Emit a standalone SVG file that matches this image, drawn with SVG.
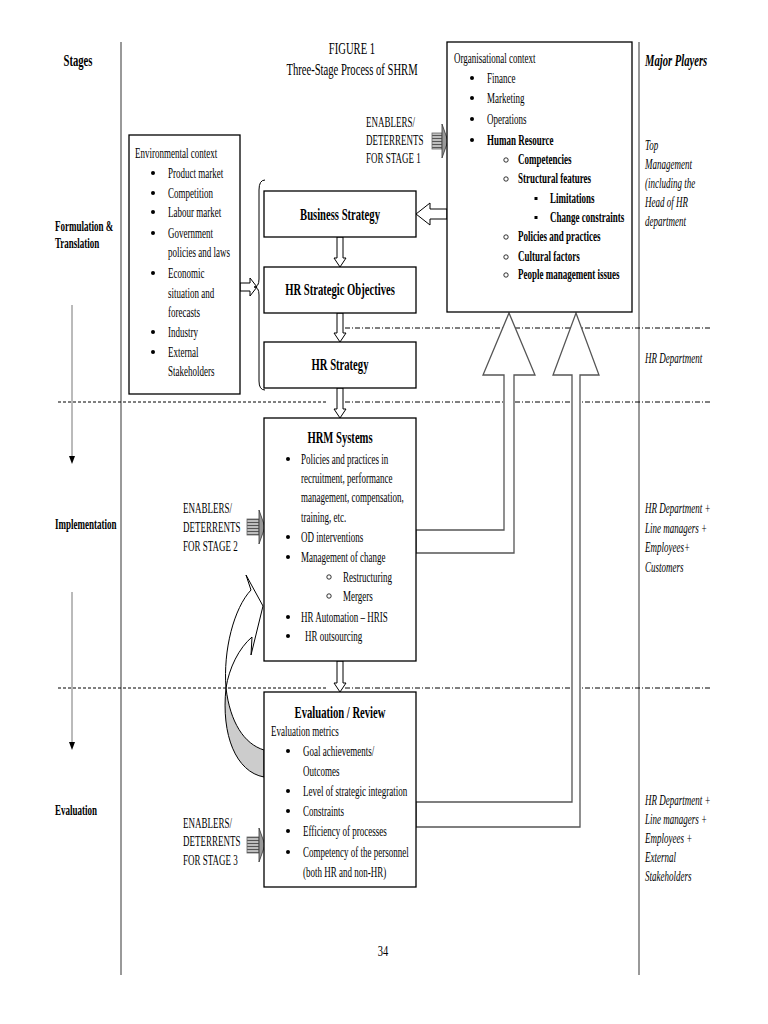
<svg xmlns="http://www.w3.org/2000/svg" width="768" height="1024" viewBox="0 0 768 1024">
<style>
.t{font-family:"Liberation Serif","Times New Roman",serif;font-size:15px;fill:#000}
.b{font-weight:bold}
.i{font-style:italic}
.h{font-size:17px}
.s{font-size:14px}
.box{fill:#fff;stroke:#000;stroke-width:1.3}
.col{stroke:#777;stroke-width:1.5;fill:none}
.dot{stroke:#000;stroke-width:1;stroke-dasharray:3 2;fill:none}
.dd{stroke:#000;stroke-width:1;stroke-dasharray:5 2 1 2;fill:none}
.open{fill:#fff;stroke:#000;stroke-width:1}
.big{fill:#fff;stroke:#555;stroke-width:1.3}
.sh{fill:url(#stripe);stroke:#666;stroke-width:0.8}
.hd{fill:#999;stroke:#333;stroke-width:0.8}
.bul{fill:#000}
.cir{fill:none;stroke:#000;stroke-width:0.8}
</style>
<defs>
<pattern id="stripe" width="4" height="3" patternUnits="userSpaceOnUse">
<rect width="4" height="3" fill="#bdbdbd"/>
<line x1="0" y1="0.5" x2="4" y2="0.5" stroke="#555" stroke-width="1"/>
</pattern>
</defs>
<rect width="768" height="1024" fill="#fff"/>

<g id="frame">
<line class="col" x1="121" y1="42" x2="121" y2="975"/>
<line class="col" x1="639" y1="42" x2="639" y2="975"/>
<line class="dot" x1="58" y1="402" x2="328" y2="402"/>
<line class="dot" x1="58" y1="688" x2="328" y2="688"/>
<line class="dd" x1="345" y1="328" x2="712" y2="328"/>
<line class="dd" x1="345" y1="402" x2="712" y2="402"/>
<line class="dd" x1="345" y1="688" x2="712" y2="688"/>
</g>

<g id="stages">
<text class="t b h" text-anchor="middle" transform="translate(78,66) scale(0.625,1)">Stages</text>
<text class="t b s" transform="translate(55,231) scale(0.643,1)">Formulation &amp;</text>
<text class="t b s" transform="translate(55,248) scale(0.643,1)">Translation</text>
<text class="t b s" transform="translate(55,529) scale(0.643,1)">Implementation</text>
<text class="t b s" transform="translate(55,815) scale(0.643,1)">Evaluation</text>
<line x1="72" y1="305" x2="72" y2="456" stroke="#777" stroke-width="1"/>
<polygon points="69,456 75,456 72,464" fill="#000"/>
<line x1="72" y1="592" x2="72" y2="742" stroke="#777" stroke-width="1"/>
<polygon points="69,742 75,742 72,750" fill="#000"/>
</g>

<g id="title">
<text class="t h" text-anchor="middle" transform="translate(352,54) scale(0.625,1)">FIGURE 1</text>
<text class="t h" text-anchor="middle" transform="translate(352,75) scale(0.625,1)">Three-Stage Process of SHRM</text>
</g>

<g id="players">
<text class="t b i h" transform="translate(645,66) scale(0.625,1)">Major Players</text>
<text class="t i" transform="translate(645,150) scale(0.6,1)">Top</text>
<text class="t i" transform="translate(645,169) scale(0.6,1)">Management</text>
<text class="t i" transform="translate(645,188) scale(0.6,1)">(including the</text>
<text class="t i" transform="translate(645,207) scale(0.6,1)">Head of HR</text>
<text class="t i" transform="translate(645,226) scale(0.6,1)">department</text>
<text class="t i" transform="translate(645,363) scale(0.6,1)">HR Department</text>
<text class="t i" transform="translate(645,513) scale(0.6,1)">HR Department +</text>
<text class="t i" transform="translate(645,533) scale(0.6,1)">Line managers +</text>
<text class="t i" transform="translate(645,552) scale(0.6,1)">Employees+</text>
<text class="t i" transform="translate(645,572) scale(0.6,1)">Customers</text>
<text class="t i" transform="translate(645,805) scale(0.6,1)">HR Department +</text>
<text class="t i" transform="translate(645,824) scale(0.6,1)">Line managers +</text>
<text class="t i" transform="translate(645,843) scale(0.6,1)">Employees +</text>
<text class="t i" transform="translate(645,862) scale(0.6,1)">External</text>
<text class="t i" transform="translate(645,881) scale(0.6,1)">Stakeholders</text>
</g>

<g id="connectors">
<polygon class="big" points="416,530 504,530 504,375 483,375 509,313 535,375 514,375 514,553 416,553"/>
<polygon class="big" points="416,802 572,802 572,375 553,375 576,313 599,375 580,375 580,827 416,827"/>
<polygon class="open" points="337,237 337,258 334,258 340,267 346,258 343,258 343,237"/>
<polygon class="open" points="337,313 337,333 334,333 340,342 346,333 343,333 343,313"/>
<polygon class="open" points="337,388 337,409 334,409 340,418 346,409 343,409 343,388"/>
<polygon class="open" points="337,661 337,683 334,683 340,692 346,683 343,683 343,661"/>
<polygon class="open" points="447,209 430,209 430,203 416,214 430,225 430,219 447,219"/>
<polygon class="open" points="240,283 250,283 250,278 257,287 250,296 250,291 240,291"/>
<path d="M265,180 Q259,180 259,190 L259,279 Q259,287 254,287 Q259,287 259,295 L259,381 Q259,390 265,390" fill="none" stroke="#000" stroke-width="1"/>
<rect class="sh" x="432" y="133" width="10" height="16"/>
<polygon class="hd" points="442,124 448,141 442,158"/>
<rect class="sh" x="247" y="519" width="12" height="16"/>
<polygon class="hd" points="259,510 265,527 259,544"/>
<rect class="sh" x="247" y="837" width="12" height="16"/>
<polygon class="hd" points="259,828 265,845 259,862"/>
<path d="M251,590 L246,575 L263,606 L251,655 L252,637 C239,648 229,668 226,688 C223,650 234,608 251,590 Z" fill="#fff" stroke="#000" stroke-width="1"/>
<path d="M226,688 C230,722 244,744 264,750 L264,777 C236,772 221,735 226,688 Z" fill="#cccccc" stroke="#000" stroke-width="1"/>
</g>

<g id="enablers">
<text class="t" transform="translate(366,127) scale(0.6,1)">ENABLERS/</text>
<text class="t" transform="translate(366,145) scale(0.6,1)">DETERRENTS</text>
<text class="t" transform="translate(366,163) scale(0.6,1)">FOR STAGE 1</text>
<text class="t" transform="translate(183,513) scale(0.6,1)">ENABLERS/</text>
<text class="t" transform="translate(183,532) scale(0.6,1)">DETERRENTS</text>
<text class="t" transform="translate(183,551) scale(0.6,1)">FOR STAGE 2</text>
<text class="t" transform="translate(183,828) scale(0.6,1)">ENABLERS/</text>
<text class="t" transform="translate(183,846) scale(0.6,1)">DETERRENTS</text>
<text class="t" transform="translate(183,865) scale(0.6,1)">FOR STAGE 3</text>
</g>

<g id="org-context">
<rect class="box" x="447" y="42" width="185" height="270"/>
<text class="t" transform="translate(454,63) scale(0.6,1)">Organisational context</text>
<circle class="bul" cx="472" cy="78" r="2"/>
<text class="t" transform="translate(487,83) scale(0.6,1)">Finance</text>
<circle class="bul" cx="472" cy="98" r="2"/>
<text class="t" transform="translate(487,103) scale(0.6,1)">Marketing</text>
<circle class="bul" cx="472" cy="119" r="2"/>
<text class="t" transform="translate(487,124) scale(0.6,1)">Operations</text>
<circle class="bul" cx="472" cy="140" r="2"/>
<text class="t b" transform="translate(487,145) scale(0.6,1)">Human Resource</text>
<circle class="cir" cx="506" cy="160" r="2.2"/>
<text class="t b" transform="translate(518,164) scale(0.6,1)">Competencies</text>
<circle class="cir" cx="506" cy="179" r="2.2"/>
<text class="t b" transform="translate(518,183) scale(0.6,1)">Structural features</text>
<rect class="bul" x="534.5" y="197" width="3" height="3"/>
<text class="t b" transform="translate(550,203) scale(0.6,1)">Limitations</text>
<rect class="bul" x="534.5" y="216" width="3" height="3"/>
<text class="t b" transform="translate(550,222) scale(0.6,1)">Change constraints</text>
<circle class="cir" cx="506" cy="237" r="2.2"/>
<text class="t b" transform="translate(518,241) scale(0.6,1)">Policies and practices</text>
<circle class="cir" cx="506" cy="257" r="2.2"/>
<text class="t b" transform="translate(518,261) scale(0.6,1)">Cultural factors</text>
<circle class="cir" cx="506" cy="275" r="2.2"/>
<text class="t b" transform="translate(518,279) scale(0.6,1)">People management issues</text>
</g>

<g id="env-context">
<rect class="box" x="129" y="135" width="111" height="259"/>
<text class="t" transform="translate(135,158) scale(0.6,1)">Environmental context</text>
<circle class="bul" cx="153" cy="173" r="2"/>
<text class="t" transform="translate(168,178) scale(0.6,1)">Product market</text>
<circle class="bul" cx="153" cy="193" r="2"/>
<text class="t" transform="translate(168,198) scale(0.6,1)">Competition</text>
<circle class="bul" cx="153" cy="212" r="2"/>
<text class="t" transform="translate(168,217) scale(0.6,1)">Labour market</text>
<circle class="bul" cx="153" cy="233" r="2"/>
<text class="t" transform="translate(168,238) scale(0.6,1)">Government</text>
<text class="t" transform="translate(168,257) scale(0.6,1)">policies and laws</text>
<circle class="bul" cx="153" cy="273" r="2"/>
<text class="t" transform="translate(168,278) scale(0.6,1)">Economic</text>
<text class="t" transform="translate(168,298) scale(0.6,1)">situation and</text>
<text class="t" transform="translate(168,317) scale(0.6,1)">forecasts</text>
<circle class="bul" cx="153" cy="332" r="2"/>
<text class="t" transform="translate(168,337) scale(0.6,1)">Industry</text>
<circle class="bul" cx="153" cy="352" r="2"/>
<text class="t" transform="translate(168,357) scale(0.6,1)">External</text>
<text class="t" transform="translate(168,376) scale(0.6,1)">Stakeholders</text>
</g>

<g id="business-strategy">
<rect class="box" x="264" y="191" width="152" height="46"/>
<text class="t b h" text-anchor="middle" transform="translate(340,220) scale(0.625,1)">Business Strategy</text>
</g>
<g id="hr-objectives">
<rect class="box" x="264" y="267" width="152" height="46"/>
<text class="t b h" text-anchor="middle" transform="translate(340,295) scale(0.625,1)">HR Strategic Objectives</text>
</g>
<g id="hr-strategy">
<rect class="box" x="264" y="342" width="152" height="46"/>
<text class="t b h" text-anchor="middle" transform="translate(340,370) scale(0.625,1)">HR Strategy</text>
</g>

<g id="hrm-systems">
<rect class="box" x="264" y="418" width="152" height="243"/>
<text class="t b h" text-anchor="middle" transform="translate(340,443) scale(0.625,1)">HRM Systems</text>
<circle class="bul" cx="288" cy="459" r="2"/>
<text class="t" transform="translate(301,464) scale(0.6,1)">Policies and practices in</text>
<text class="t" transform="translate(301,483) scale(0.6,1)">recruitment, performance</text>
<text class="t" transform="translate(301,502) scale(0.6,1)">management, compensation,</text>
<text class="t" transform="translate(301,522) scale(0.6,1)">training, etc.</text>
<circle class="bul" cx="288" cy="537" r="2"/>
<text class="t" transform="translate(301,542) scale(0.6,1)">OD interventions</text>
<circle class="bul" cx="288" cy="557" r="2"/>
<text class="t" transform="translate(301,562) scale(0.6,1)">Management of change</text>
<circle class="cir" cx="329" cy="577" r="2.2"/>
<text class="t" transform="translate(343,582) scale(0.6,1)">Restructuring</text>
<circle class="cir" cx="329" cy="596" r="2.2"/>
<text class="t" transform="translate(343,601) scale(0.6,1)">Mergers</text>
<circle class="bul" cx="288" cy="617" r="2"/>
<text class="t" transform="translate(301,622) scale(0.6,1)">HR Automation – HRIS</text>
<circle class="bul" cx="288" cy="636" r="2"/>
<text class="t" transform="translate(305,641) scale(0.6,1)">HR outsourcing</text>
</g>

<g id="evaluation">
<rect class="box" x="264" y="692" width="152" height="195"/>
<text class="t b h" text-anchor="middle" transform="translate(340,718) scale(0.625,1)">Evaluation / Review</text>
<text class="t" transform="translate(271,736) scale(0.6,1)">Evaluation metrics</text>
<circle class="bul" cx="288" cy="751" r="2"/>
<text class="t" transform="translate(303,756) scale(0.6,1)">Goal achievements/</text>
<text class="t" transform="translate(303,776) scale(0.6,1)">Outcomes</text>
<circle class="bul" cx="288" cy="791" r="2"/>
<text class="t" transform="translate(303,796) scale(0.6,1)">Level of strategic integration</text>
<circle class="bul" cx="288" cy="811" r="2"/>
<text class="t" transform="translate(303,816) scale(0.6,1)">Constraints</text>
<circle class="bul" cx="288" cy="831" r="2"/>
<text class="t" transform="translate(303,836) scale(0.6,1)">Efficiency of processes</text>
<circle class="bul" cx="288" cy="852" r="2"/>
<text class="t" transform="translate(303,857) scale(0.6,1)">Competency of the personnel</text>
<text class="t" transform="translate(303,877) scale(0.6,1)">(both HR and non-HR)</text>
</g>

<g id="page-number">
<text class="t" text-anchor="middle" transform="translate(383,956) scale(0.7,1)">34</text>
</g>
</svg>
